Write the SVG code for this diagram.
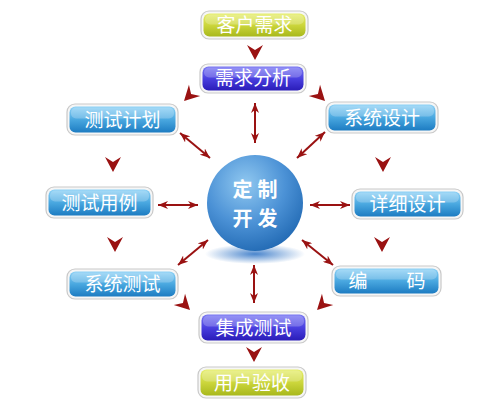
<svg xmlns="http://www.w3.org/2000/svg" width="500" height="410" viewBox="0 0 500 410">
<style>
.frame{fill:#f6f6f6;stroke:#c9c9c9;stroke-width:1.2}
.lbl{font-family:"Noto Sans CJK SC","Noto Sans",sans-serif;font-size:19px;fill:#ffffff;text-anchor:middle}
.big{font-family:"Noto Sans CJK SC","Noto Sans",sans-serif;font-size:20px;font-weight:bold;fill:#ffffff;text-anchor:middle;letter-spacing:5px}
.dbl{stroke:#9a1212;stroke-width:2;fill:none;marker-start:url(#sm);marker-end:url(#sm)}
.ah{fill:#9a1212}
.gloss{fill:#ffffff;opacity:0.22}
</style>
<defs>
<linearGradient id="gBlue" x1="0" y1="0" x2="0" y2="1">
<stop offset="0" stop-color="#8fd2f6"/>
<stop offset="0.5" stop-color="#4aa8e0"/>
<stop offset="1" stop-color="#1d7cc2"/>
</linearGradient>
<linearGradient id="gPurple" x1="0" y1="0" x2="0" y2="1">
<stop offset="0" stop-color="#7a78f4"/>
<stop offset="0.5" stop-color="#4a40e0"/>
<stop offset="1" stop-color="#2a1cb8"/>
</linearGradient>
<linearGradient id="gYellow" x1="0" y1="0" x2="0" y2="1">
<stop offset="0" stop-color="#e6ee70"/>
<stop offset="0.5" stop-color="#ccd63c"/>
<stop offset="1" stop-color="#a8b81c"/>
</linearGradient>
<radialGradient id="gCircle" cx="0.4" cy="0.3" r="0.75">
<stop offset="0" stop-color="#90c8f0"/>
<stop offset="0.55" stop-color="#4c92d6"/>
<stop offset="1" stop-color="#2068b2"/>
</radialGradient>
<radialGradient id="gShadow" cx="0.5" cy="0.5" r="0.5">
<stop offset="0" stop-color="#2a70c4" stop-opacity="0.85"/>
<stop offset="1" stop-color="#2a70c4" stop-opacity="0"/>
</radialGradient>
<marker id="sm" viewBox="0 0 10 8" refX="10" refY="4" markerWidth="10" markerHeight="8" markerUnits="userSpaceOnUse" orient="auto-start-reverse">
<path d="M0,0 L10,4 L0,8 L3,4 Z" fill="#9a1212"/>
</marker>
<path id="tri" d="M0,0 L-8,-15 L0,-10 L8,-15 Z"/>
</defs>

<g id="connectors">
<line class="dbl" x1="255" y1="103" x2="255" y2="143"/>
<line class="dbl" x1="180" y1="133" x2="210" y2="158"/>
<line class="dbl" x1="325" y1="132" x2="297" y2="158"/>
<line class="dbl" x1="158" y1="205" x2="198" y2="205"/>
<line class="dbl" x1="310" y1="205" x2="350" y2="205"/>
<line class="dbl" x1="178" y1="265" x2="208" y2="240"/>
<line class="dbl" x1="302" y1="240" x2="333" y2="265"/>
<line class="dbl" x1="254" y1="265" x2="254" y2="303"/>
<use href="#tri" class="ah" transform="translate(255,60)"/>
<use href="#tri" class="ah" transform="translate(184,101) rotate(45)"/>
<use href="#tri" class="ah" transform="translate(325,101) rotate(-45)"/>
<use href="#tri" class="ah" transform="translate(113,172)"/>
<use href="#tri" class="ah" transform="translate(115,252)"/>
<use href="#tri" class="ah" transform="translate(383,172)"/>
<use href="#tri" class="ah" transform="translate(382,252)"/>
<use href="#tri" class="ah" transform="translate(190,310) rotate(-45)"/>
<use href="#tri" class="ah" transform="translate(317,310) rotate(45)"/>
<use href="#tri" class="ah" transform="translate(254,362)"/>
</g>

<g id="center">
<ellipse cx="255" cy="254" rx="50" ry="10" fill="url(#gShadow)"/>
<circle cx="255" cy="203" r="48" fill="url(#gCircle)"/>
<text class="big" x="257.5" y="197">定制</text>
<text class="big" x="257.5" y="226">开发</text>
</g>

<g id="n-kehu">
<rect class="frame" x="201" y="11" width="107" height="28" rx="8"/>
<rect x="203.5" y="13.5" width="102" height="23" rx="6" fill="url(#gYellow)"/>
<rect class="gloss" x="205" y="14.5" width="99" height="10" rx="5"/>
<text class="lbl" x="254.5" y="31.5">客户需求</text>
</g>
<g id="n-xuqiu">
<rect class="frame" x="200" y="64" width="106" height="29" rx="8"/>
<rect x="202.5" y="66.5" width="101" height="24" rx="6" fill="url(#gPurple)"/>
<rect class="gloss" x="204" y="67.5" width="98" height="10" rx="5"/>
<text class="lbl" x="253" y="85">需求分析</text>
</g>
<g id="n-ceshijihua">
<rect class="frame" x="67" y="104" width="111" height="31" rx="8"/>
<rect x="69.5" y="106.5" width="106" height="26" rx="6" fill="url(#gBlue)"/>
<rect class="gloss" x="71" y="107.5" width="103" height="11" rx="5"/>
<text class="lbl" x="122.5" y="126.5">测试计划</text>
</g>
<g id="n-xitongsheji">
<rect class="frame" x="326" y="102" width="112" height="31" rx="8"/>
<rect x="328.5" y="104.5" width="107" height="26" rx="6" fill="url(#gBlue)"/>
<rect class="gloss" x="330" y="105.5" width="104" height="11" rx="5"/>
<text class="lbl" x="382" y="124.5">系统设计</text>
</g>
<g id="n-ceshiyongli">
<rect class="frame" x="46" y="187" width="107" height="31" rx="8"/>
<rect x="48.5" y="189.5" width="102" height="26" rx="6" fill="url(#gBlue)"/>
<rect class="gloss" x="50" y="190.5" width="99" height="11" rx="5"/>
<text class="lbl" x="99.5" y="209.5">测试用例</text>
</g>
<g id="n-xiangxisheji">
<rect class="frame" x="352" y="189" width="111" height="30" rx="8"/>
<rect x="354.5" y="191.5" width="106" height="25" rx="6" fill="url(#gBlue)"/>
<rect class="gloss" x="356" y="192.5" width="103" height="10" rx="5"/>
<text class="lbl" x="407.5" y="211">详细设计</text>
</g>
<g id="n-xitongceshi">
<rect class="frame" x="67" y="269" width="111" height="30" rx="8"/>
<rect x="69.5" y="271.5" width="106" height="25" rx="6" fill="url(#gBlue)"/>
<rect class="gloss" x="71" y="272.5" width="103" height="10" rx="5"/>
<text class="lbl" x="122.5" y="291">系统测试</text>
</g>
<g id="n-bianma">
<rect class="frame" x="332" y="266" width="109" height="30" rx="8"/>
<rect x="334.5" y="268.5" width="104" height="25" rx="6" fill="url(#gBlue)"/>
<rect class="gloss" x="336" y="269.5" width="101" height="10" rx="5"/>
<text class="lbl"><tspan x="358" y="288">编</tspan><tspan x="416" y="288">码</tspan></text>
</g>
<g id="n-jicheng">
<rect class="frame" x="199" y="312" width="109" height="31" rx="8"/>
<rect x="201.5" y="314.5" width="104" height="26" rx="6" fill="url(#gPurple)"/>
<rect class="gloss" x="203" y="315.5" width="101" height="11" rx="5"/>
<text class="lbl" x="253.5" y="334.5">集成测试</text>
</g>
<g id="n-yanshou">
<rect class="frame" x="198" y="367" width="108" height="31" rx="8"/>
<rect x="200.5" y="369.5" width="103" height="26" rx="6" fill="url(#gYellow)"/>
<rect class="gloss" x="202" y="370.5" width="100" height="11" rx="5"/>
<text class="lbl" x="252" y="389.5">用户验收</text>
</g>
</svg>
